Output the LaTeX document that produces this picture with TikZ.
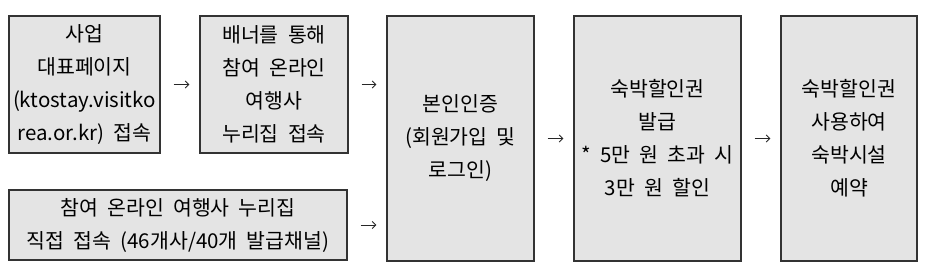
\documentclass[tikz,border=0pt]{standalone}
\usepackage{fontspec}
\setmainfont{Noto Sans CJK KR}[WordSpace=2]
\usetikzlibrary{arrows.meta}
\definecolor{boxfill}{HTML}{E4E4E4}
\definecolor{boxline}{HTML}{333333}
\tikzset{
  flowbox/.style={draw=boxline, fill=boxfill, line width=1.3pt, inner sep=0pt,
    align=center, font={\fontsize{20.5pt}{33pt}\selectfont}},
  flowarr/.style={line width=0.9pt, draw=black!85,
    -{Straight Barb[length=3.5pt,width=7pt]},
    shorten <=13pt, shorten >=10pt}
}
\begin{document}
\begin{tikzpicture}[x=1pt,y=-1pt]
\useasboundingbox (0,0) rectangle (927,280);
\node[flowbox, minimum width=151pt, minimum height=137pt] (b1) at (84.5,84.5)
  {사업\\대표페이지\\(ktostay.visitko\\rea.or.kr) 접속};
\node[flowbox, minimum width=148pt, minimum height=137pt] (b2) at (274,84.5)
  {배너를 통해\\참여 온라인\\여행사\\누리집 접속};
\node[flowbox, minimum width=338pt, minimum height=70pt] (bot) at (178,225)
  {참여 온라인 여행사 누리집\\직접 접속 (46개사/40개 발급채널)};
\node[flowbox, minimum width=147pt, minimum height=245pt] (b3) at (460.5,138.5)
  {본인인증\\(회원가입 및\\로그인)};
\node[flowbox, minimum width=167pt, minimum height=245pt] (b4) at (657.5,138.5)
  {숙박할인권\\발급\\* 5만 원 초과 시\\3만 원 할인};
\node[flowbox, minimum width=136pt, minimum height=245pt] (b5) at (849,138.5)
  {숙박할인권\\사용하여\\숙박시설\\예약};
\draw[flowarr] (b1.east) -- (b2.west);
\draw[flowarr] (b2.east) -- (b2.east -| b3.west);
\draw[flowarr] (bot.east) -- (bot.east -| b3.west);
\draw[flowarr] (b3.east) -- (b4.west);
\draw[flowarr] (b4.east) -- (b5.west);
\end{tikzpicture}
\end{document}
